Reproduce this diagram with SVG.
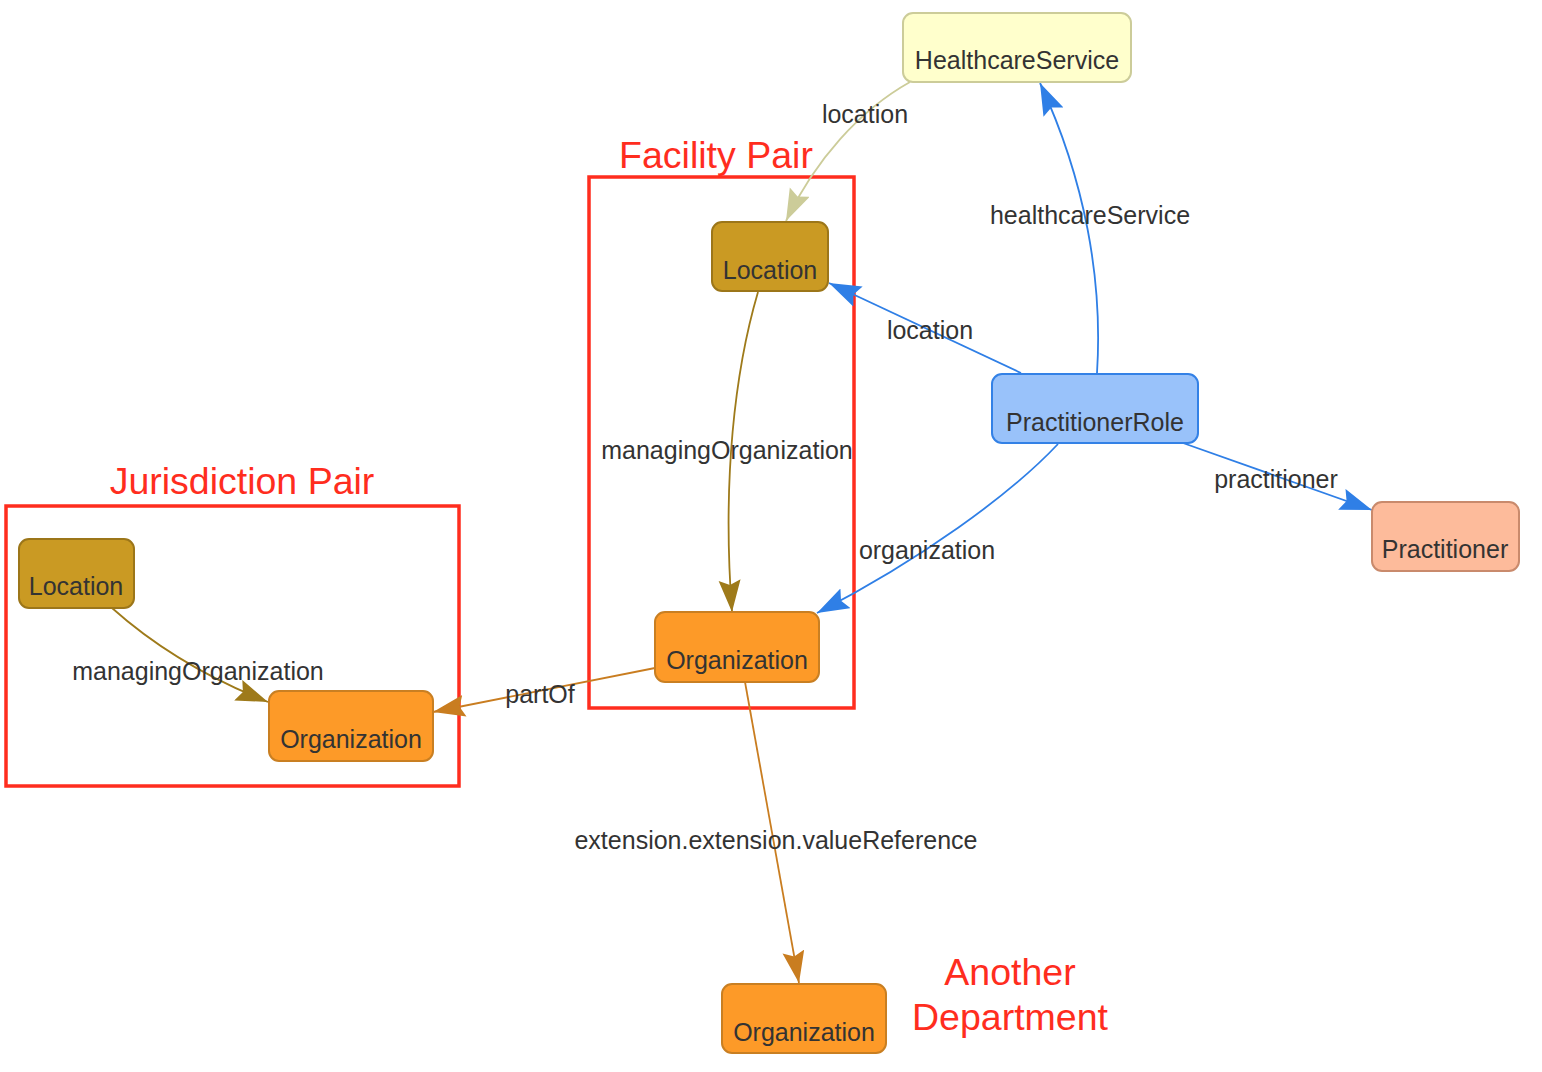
<svg xmlns="http://www.w3.org/2000/svg" width="1542" height="1072" viewBox="0 0 1542 1072">
<style>
text{font-family:"Liberation Sans",Arial,sans-serif;}
.lbl{font-size:25px;fill:#333333;text-anchor:middle;}
.ttl{font-size:37.5px;fill:#ff2d1e;text-anchor:middle;}
.cl{fill:none;stroke:#ff2d1e;stroke-width:3.5;}
.e{fill:none;stroke-width:1.8;}
.blue{stroke:#2f7fe6;}
.khaki{stroke:#cccc99;}
.gold{stroke:#9e7a1a;}
.org{stroke:#c97d20;}
.n{stroke-width:2;}
</style>
<defs>
<marker id="mBlue" markerUnits="userSpaceOnUse" markerWidth="34" markerHeight="24" refX="32" refY="11" orient="auto"><path d="M0,0 L32,11 L0,22 L5,11 Z" fill="#2f7fe6"/></marker>
<marker id="mKhaki" markerUnits="userSpaceOnUse" markerWidth="34" markerHeight="24" refX="32" refY="11" orient="auto"><path d="M0,0 L32,11 L0,22 L5,11 Z" fill="#cccc99"/></marker>
<marker id="mGold" markerUnits="userSpaceOnUse" markerWidth="34" markerHeight="24" refX="32" refY="11" orient="auto"><path d="M0,0 L32,11 L0,22 L5,11 Z" fill="#9e7a1a"/></marker>
<marker id="mOrg" markerUnits="userSpaceOnUse" markerWidth="34" markerHeight="24" refX="32" refY="11" orient="auto"><path d="M0,0 L32,11 L0,22 L5,11 Z" fill="#c97d20"/></marker>
</defs>
<rect width="1542" height="1072" fill="#ffffff"/>
<g id="clusters">
<g id="cluster-facility">
<rect class="cl" x="589" y="177" width="265" height="531"/>
<text class="ttl" x="716" y="168">Facility Pair</text>
</g>
<g id="cluster-jurisdiction">
<rect class="cl" x="6" y="506" width="453" height="280"/>
<text class="ttl" x="242" y="494">Jurisdiction Pair</text>
</g>
<g id="label-another">
<text class="ttl" x="1010" y="985">Another</text>
<text class="ttl" x="1010" y="1030">Department</text>
</g>
</g>
<g id="connectors">
<path class="e khaki" d="M910,82 C860,110 815,160 786,221" marker-end="url(#mKhaki)"/>
<path class="e blue" d="M1097,373 C1103,280 1085,180 1040,83" marker-end="url(#mBlue)"/>
<path class="e blue" d="M1021,373 L829,283" marker-end="url(#mBlue)"/>
<path class="e blue" d="M1183,443 L1372,510" marker-end="url(#mBlue)"/>
<path class="e blue" d="M1058,444 C1010,495 920,560 817,613" marker-end="url(#mBlue)"/>
<path class="e gold" d="M758,292 C735,370 722,480 732,612" marker-end="url(#mGold)"/>
<path class="e gold" d="M112,608 C150,642 200,675 268,702" marker-end="url(#mGold)"/>
<path class="e org" d="M655,668 L433,712" marker-end="url(#mOrg)"/>
<path class="e org" d="M745,682 L799,983" marker-end="url(#mOrg)"/>
<text class="lbl" x="865" y="123">location</text>
<text class="lbl" x="1090" y="224">healthcareService</text>
<text class="lbl" x="930" y="339">location</text>
<text class="lbl" x="1276" y="488">practitioner</text>
<text class="lbl" x="927" y="559">organization</text>
<text class="lbl" x="727" y="459">managingOrganization</text>
<text class="lbl" x="198" y="680">managingOrganization</text>
<text class="lbl" x="540" y="703">partOf</text>
<text class="lbl" x="776" y="849">extension.extension.valueReference</text>
</g>
<g id="node-healthcareservice">
<rect class="n" x="903" y="13" width="228" height="69" rx="10" fill="#ffffcc" stroke="#cccc99"/>
<text class="lbl" x="1017" y="69">HealthcareService</text>
</g>
<g id="node-location-facility">
<rect class="n" x="712" y="222" width="116" height="69" rx="10" fill="#ca9a23" stroke="#9c7619"/>
<text class="lbl" x="770" y="279">Location</text>
</g>
<g id="node-practitionerrole">
<rect class="n" x="992" y="374" width="206" height="69" rx="10" fill="#99c2fa" stroke="#3381e6"/>
<text class="lbl" x="1095" y="431">PractitionerRole</text>
</g>
<g id="node-practitioner">
<rect class="n" x="1372" y="502" width="147" height="69" rx="10" fill="#fdbb9b" stroke="#c98a6c"/>
<text class="lbl" x="1445" y="558">Practitioner</text>
</g>
<g id="node-organization-facility">
<rect class="n" x="655" y="612" width="164" height="70" rx="10" fill="#fd9a28" stroke="#c97f22"/>
<text class="lbl" x="737" y="669">Organization</text>
</g>
<g id="node-location-jurisdiction">
<rect class="n" x="19" y="539" width="115" height="69" rx="10" fill="#ca9a23" stroke="#9c7619"/>
<text class="lbl" x="76" y="595">Location</text>
</g>
<g id="node-organization-jurisdiction">
<rect class="n" x="269" y="691" width="164" height="70" rx="10" fill="#fd9a28" stroke="#c97f22"/>
<text class="lbl" x="351" y="748">Organization</text>
</g>
<g id="node-organization-another">
<rect class="n" x="722" y="984" width="164" height="69" rx="10" fill="#fd9a28" stroke="#c97f22"/>
<text class="lbl" x="804" y="1041">Organization</text>
</g>
</svg>
